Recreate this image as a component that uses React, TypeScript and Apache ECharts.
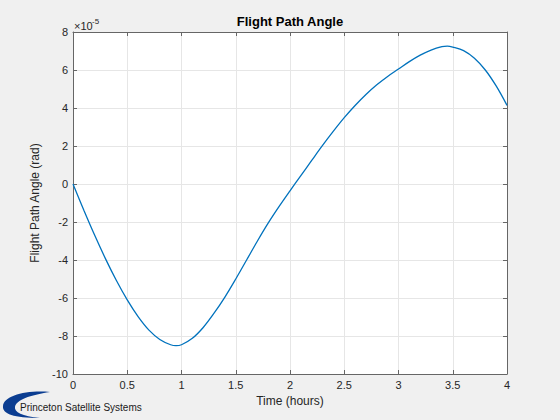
import React, { useEffect, useRef } from 'react';
import * as echarts from 'echarts';

// time in hours, angle in units of 1e-5 rad (axis shows the x10^-5 multiplier)
const timeHours = [
  0, 0.1, 0.2, 0.3, 0.4, 0.5, 0.6, 0.7, 0.8, 0.9, 0.95, 1.0,
  1.1, 1.2, 1.3, 1.4, 1.5, 1.6, 1.7, 1.8, 1.9, 2.0,
  2.1, 2.2, 2.3, 2.4, 2.5, 2.6, 2.7, 2.8, 2.9, 3.0,
  3.1, 3.2, 3.3, 3.4, 3.45, 3.5, 3.6, 3.7, 3.8, 3.9, 4.0,
];
const angleE5 = [
  0, -1.38, -2.7, -3.94, -5.08, -6.1, -6.98, -7.69, -8.18, -8.46, -8.51, -8.46,
  -8.12, -7.55, -6.8, -5.95, -5.0, -4.0, -3.0, -2.05, -1.18, -0.36,
  0.44, 1.24, 2.03, 2.78, 3.49, 4.13, 4.71, 5.22, 5.66, 6.05,
  6.44, 6.78, 7.05, 7.23, 7.26, 7.21, 7.02, 6.62, 6.0, 5.16, 4.14,
];
const xTicks = { min: 0, max: 4, step: 0.5 };
const yTicks = { min: -10, max: 8, step: 2 };

const crescent =
  'M 50 392 C 25 390 4 396 3 406 C 2 414 14 418 40 418 C 22 416 14 412 15 407 C 16 400 30 395 50 392 Z';
echarts.graphic.registerShape('pssLogo', echarts.graphic.extendPath(crescent, {}) as any);

const font = 'Liberation Sans, Arial, Helvetica, sans-serif';
const axisColor = '#666666';
const textColor = '#262626';

const App: React.FC = () => {
  const chartRef = useRef<HTMLDivElement>(null);

  useEffect(() => {
    const chart = echarts.init(chartRef.current as HTMLDivElement, undefined, { renderer: 'svg' });

    const frameAxis = {
      axisLine: { show: true, onZero: false, lineStyle: { color: axisColor, width: 1 } },
      axisTick: { show: true, inside: true, length: 4, lineStyle: { color: axisColor } },
      axisLabel: { show: false },
      splitLine: { show: false },
    };

    chart.setOption({
      animation: false,
      backgroundColor: '#f0f0f0',
      textStyle: { fontFamily: font },
      grid: { left: 73, right: 53, top: 32, bottom: 46, show: true, backgroundColor: '#ffffff', borderWidth: 0 },
      xAxis: [
        {
          type: 'value',
          min: xTicks.min,
          max: xTicks.max,
          interval: xTicks.step,
          name: 'Time (hours)',
          nameLocation: 'middle',
          nameGap: 20,
          nameTextStyle: { color: textColor, fontSize: 12, fontFamily: font },
          axisLine: { show: true, onZero: false, lineStyle: { color: axisColor, width: 1 } },
          axisTick: { show: true, inside: true, length: 4, lineStyle: { color: axisColor } },
          axisLabel: { color: textColor, fontSize: 11, margin: 5, fontFamily: font },
          splitLine: { show: true, lineStyle: { color: '#e6e6e6', width: 1 } },
        },
        { type: 'value', position: 'top', min: xTicks.min, max: xTicks.max, interval: xTicks.step, ...frameAxis },
      ],
      yAxis: [
        {
          type: 'value',
          min: yTicks.min,
          max: yTicks.max,
          interval: yTicks.step,
          name: 'Flight Path Angle (rad)',
          nameLocation: 'middle',
          nameGap: 22,
          nameTextStyle: { color: textColor, fontSize: 12, fontFamily: font },
          axisLine: { show: true, onZero: false, lineStyle: { color: axisColor, width: 1 } },
          axisTick: { show: true, inside: true, length: 4, lineStyle: { color: axisColor } },
          axisLabel: { color: textColor, fontSize: 11, margin: 5, fontFamily: font },
          splitLine: { show: true, lineStyle: { color: '#e6e6e6', width: 1 } },
        },
        { type: 'value', position: 'right', min: yTicks.min, max: yTicks.max, interval: yTicks.step, ...frameAxis },
      ],
      series: [
        {
          type: 'line',
          xAxisIndex: 0,
          yAxisIndex: 0,
          data: timeHours.map((t, i) => [t, angleE5[i]]),
          showSymbol: false,
          smooth: 0.35,
          lineStyle: { color: '#0072BD', width: 1.3 },
        },
      ],
      graphic: [
        {
          type: 'text',
          x: 290,
          y: 21,
          style: { text: 'Flight Path Angle', fill: '#000', font: `bold 13px ${font}`, align: 'center', verticalAlign: 'middle' },
        },
        {
          type: 'text',
          x: 74,
          y: 26,
          style: { text: '×10', fill: textColor, font: `11px ${font}`, align: 'left', verticalAlign: 'middle' },
        },
        {
          type: 'text',
          x: 92,
          y: 21,
          style: { text: '-5', fill: textColor, font: `8px ${font}`, align: 'left', verticalAlign: 'middle' },
        },
        { type: 'pssLogo', x: 0, y: 0, style: { fill: '#0b3d91' } },
        {
          type: 'text',
          x: 20,
          y: 407,
          style: { text: 'Princeton Satellite Systems', fill: '#1a1a1a', font: `10px ${font}`, align: 'left', verticalAlign: 'middle' },
        },
      ],
    });

    return () => {
      chart.dispose();
    };
  }, []);

  return (
    <div
      ref={chartRef}
      style={{ position: 'absolute', left: 0, top: 0, width: '560px', height: '420px' }}
    ></div>
  );
};

export default App;
